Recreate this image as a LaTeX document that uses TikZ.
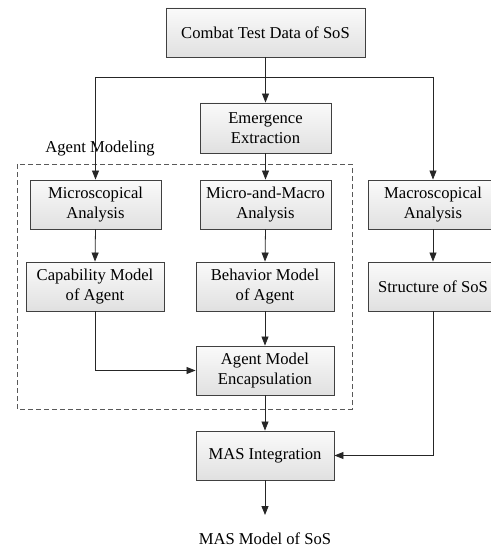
\documentclass[tikz,border=0pt]{standalone}
\usepackage{fontspec}
\setmainfont{Liberation Serif}
\usetikzlibrary{arrows.meta,shadings}
\begin{document}
\begin{tikzpicture}[x=1pt,y=-1pt,
  box/.style={draw=black!75, line width=0.9pt, top color=gray!4, bottom color=gray!24,
    minimum height=49pt, inner sep=0pt, align=center,
    font=\fontsize{16.6}{20}\selectfont},
  conn/.style={draw=black!85, line width=0.8pt},
  arr/.style={conn, -{Triangle[length=9pt,width=7pt]}},
  lbl/.style={font=\fontsize{16.6}{20}\selectfont, inner sep=0pt}]
\useasboundingbox (0,0) rectangle (490,548);
\node[box, minimum width=199pt] (top) at (265.5,32.5) {Combat Test Data of SoS};
\node[box, minimum width=131pt, minimum height=50pt] (emg) at (265.5,128) {Emergence\\Extraction};
\node[box, minimum width=131pt] (mic) at (95.5,204.5) {Microscopical\\Analysis};
\node[box, minimum width=131pt] (mm) at (265.5,204.5) {Micro-and-Macro\\Analysis};
\node[box, minimum width=130pt] (mac) at (433,204.5) {Macroscopical\\Analysis};
\node[box, minimum width=138pt] (cap) at (95,286.5) {Capability Model\\of Agent};
\node[box, minimum width=138pt] (beh) at (265,286.5) {Behavior Model\\of Agent};
\node[box, minimum width=130pt] (str) at (433,286.5) {Structure of SoS};
\node[box, minimum width=138pt] (enc) at (265,370.5) {Agent Model\\Encapsulation};
\node[box, minimum width=138pt] (mas) at (265,455.5) {MAS Integration};
\node[lbl] (out) at (265,539) {MAS Model of SoS};
\coordinate (outtip) at (265,515);
\node[lbl] (am) at (100,149) {Agent Modeling};
\draw[draw=black!65, line width=0.8pt, dash pattern=on 5pt off 3pt] (17,164) rectangle (352,409);
% connectors
\coordinate (bl) at (95.5,77);
\coordinate (br) at (433,77);
\draw[arr] (top.south) -- (emg.north);
\draw[conn] (bl) -- (br);
\draw[arr] (bl) -- (mic.north);
\draw[arr] (br) -- (mac.north);
\draw[arr] (emg.south) -- (mm.north);
\draw[arr] (mic.south) -- (cap.north);
\draw[arr] (mm.south) -- (beh.north);
\draw[arr] (mac.south) -- (str.north);
\draw[arr] (beh.south) -- (enc.north);
\draw[arr] (cap.south) |- (enc.west);
\draw[arr] (enc.south) -- (mas.north);
\draw[arr] (str.south) |- (mas.east);
\draw[arr] (mas.south) -- (outtip);
\end{tikzpicture}
\end{document}
